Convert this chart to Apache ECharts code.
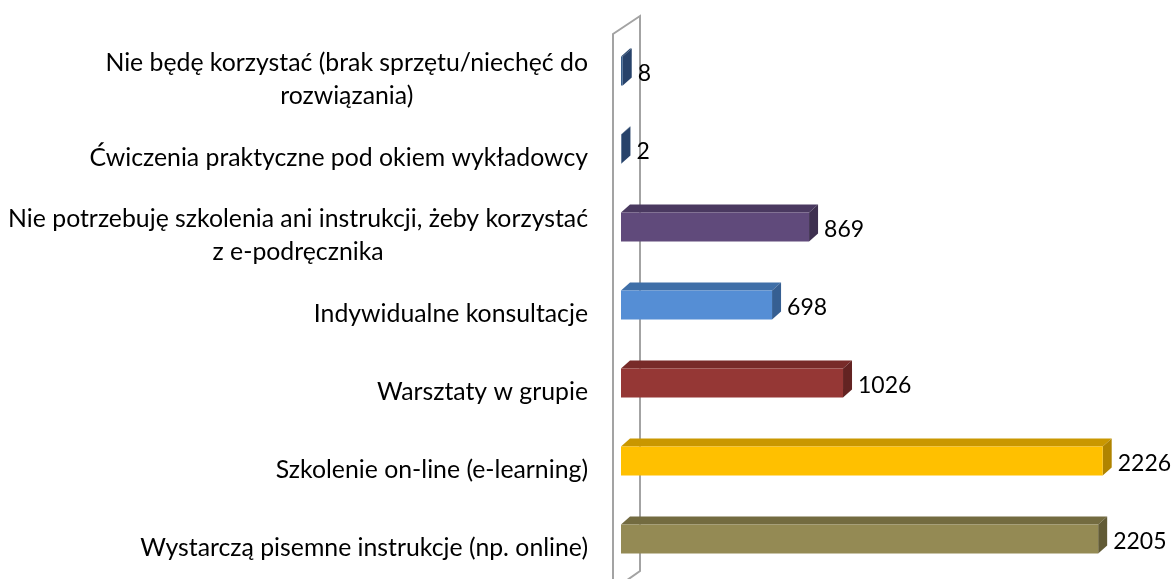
<!DOCTYPE html>
<html><head><meta charset="utf-8">
<script src="https://cdn.jsdelivr.net/npm/echarts@6/dist/echarts.min.js"></script>
<style>html,body{margin:0;padding:0;background:#fff}#c{width:1176px;height:579px}</style>
</head><body><div id="c"></div>
<script>
const categories = [
  'Nie będę korzystać (brak sprzętu/niechęć do\nrozwiązania)',
  'Ćwiczenia praktyczne pod okiem wykładowcy',
  'Nie potrzebuję szkolenia ani instrukcji, żeby korzystać\nz e-podręcznika',
  'Indywidualne konsultacje',
  'Warsztaty w grupie',
  'Szkolenie on-line (e-learning)',
  'Wystarczą pisemne instrukcje (np. online)'
];
const values = [8, 2, 869, 698, 1026, 2226, 2205];
const frontColors = ['#385d8a', '#385d8a', '#604a7b', '#558ed5', '#953735', '#ffc000', '#948a54'];
const topColors   = ['#2c4a70', '#2c4a70', '#4a3960', '#3f6fa8', '#782b29', '#c99700', '#736b40'];
const sideColors  = ['#27426a', '#27426a', '#3e3050', '#365f92', '#632322', '#b08400', '#625b36'];

const FONT = 'Lato';
const FS = 24.8;
const VFS = 23;
const GRID = {left: 621, top: 32, width: 541, height: 546};
const DX = 9, DY = 8;

const chart = echarts.init(document.getElementById('c'), null, {renderer: 'canvas'});
chart.setOption({
  animation: false,
  backgroundColor: '#ffffff',
  grid: GRID,
  xAxis: {type: 'value', min: 0, max: 2500, show: false},
  yAxis: {
    type: 'category', data: categories, inverse: true,
    axisLine: {show: false}, axisTick: {show: false}, splitLine: {show: false},
    axisLabel: {
      margin: 33, align: 'right', color: '#000', fontFamily: FONT, fontSize: FS,
      lineHeight: 33, padding: [18, 0, 0, 0],
      formatter: function (v) {
        return v.split('\n').map(function (l) { return '{c|' + l + '}'; }).join('\n');
      },
      rich: {c: {align: 'center', fontFamily: FONT, fontSize: FS, color: '#000', lineHeight: 33}}
    }
  },
  graphic: [{
    type: 'polygon', z: 0, silent: true,
    shape: {points: [[613, 34], [640, 16], [640, 571], [613, 590]]},
    style: {fill: '#ffffff', stroke: '#a3a3a3', lineWidth: 2}
  }],
  series: [{
    type: 'custom', z: 5,
    data: values.map(function (v, i) { return [v, i]; }),
    encode: {x: 0, y: 1},
    renderItem: function (params, api) {
      const i = api.value(1);
      const p0 = api.coord([0, i]);
      const p1 = api.coord([api.value(0), i]);
      const h = 29;
      const cy = p0[1];
      const x0 = p0[0], x1 = p1[0];
      const top = cy - h / 2, bot = cy + h / 2;
      return {
        type: 'group',
        children: [
          {type: 'polygon', shape: {points: [[x0, top], [x1, top], [x1 + DX, top - DY], [x0 + DX, top - DY]]},
           style: {fill: topColors[i]}},
          {type: 'polygon', shape: {points: [[x1, top], [x1 + DX, top - DY], [x1 + DX, bot - DY], [x1, bot]]},
           style: {fill: sideColors[i]}},
          {type: 'rect', shape: {x: x0, y: top, width: x1 - x0, height: h},
           style: {fill: frontColors[i]}},
          {type: 'text', style: {x: x1 + 15, y: cy + 3, text: String(values[i]),
            fill: '#000', font: VFS + 'px ' + FONT, textAlign: 'left', textVerticalAlign: 'middle'}}
        ]
      };
    }
  }]
});
</script></body></html>
